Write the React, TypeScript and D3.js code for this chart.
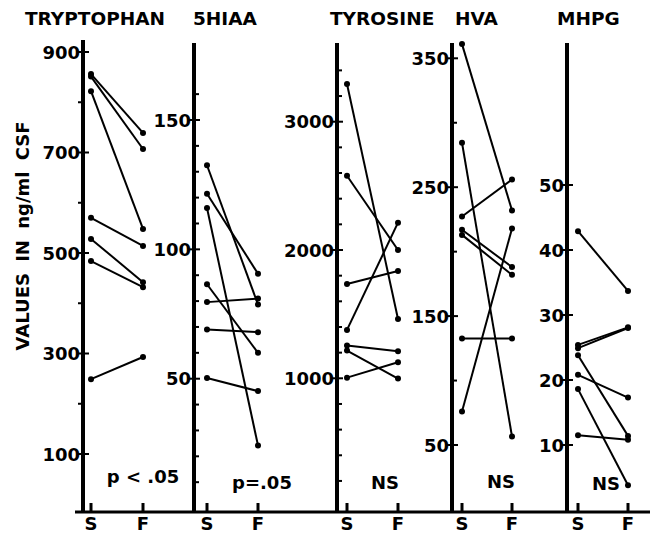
import React from "react"
import { scaleLinear, scalePoint } from "d3"

// paired CSF values, S = first sample, F = follow-up
const titles = ["TRYPTOPHAN", "5HIAA", "TYROSINE", "HVA", "MHPG"]
const phases = ["S", "F"]
const notes = ["p < .05", "p=.05", "NS", "NS", "NS"]

const tryptophanS = [856, 851, 822, 570, 528, 484, 249]
const tryptophanF = [739, 707, 548, 514, 442, 432, 293]
const hiaaS = [132.5, 121.5, 116, 86.5, 79.6, 69, 50.3]
const hiaaF = [78.7, 90.6, 24.2, 60, 81, 68, 45.2]
const tyrosineS = [3294, 2579, 1735, 1377, 1255, 1216, 1005]
const tyrosineF = [1462, 2000, 1836, 2213, 1210, 998, 1125]
const hvaS = [361, 284.5, 227.3, 217, 213, 132.6, 76]
const hvaF = [232, 56.6, 256, 188, 182, 132.6, 218]
const mhpgS = [42.9, 25.4, 24.9, 23.8, 20.8, 18.6, 11.5]
const mhpgF = [33.7, 28.1, 28.0, 11.4, 17.3, 3.8, 10.8]

const seriesS = [tryptophanS, hiaaS, tyrosineS, hvaS, mhpgS]
const seriesF = [tryptophanF, hiaaF, tyrosineF, hvaF, mhpgF]

const tickLabels = [
  [100, 300, 500, 700, 900],
  [50, 100, 150],
  [1000, 2000, 3000],
  [50, 150, 250, 350],
  [10, 20, 30, 40, 50],
]
const minorTicks = [
  [200, 400, 600, 800],
  [10, 20, 30, 40, 60, 70, 80, 90, 110, 120, 130, 140, 160],
  [200, 400, 600, 800, 1200, 1400, 1600, 1800, 2200, 2400, 2600, 2800, 3200, 3400],
  [100, 200, 300],
  [],
]

// layout: axis position, value->pixel calibration, title/note placement
const layout = [
  { axisX: 83, sX: 91, fX: 143, dom: [100, 900], rng: [454, 52], top: 40, titleX: 25, noteX: 143, noteY: 483, minorLeft: true },
  { axisX: 194, sX: 207, fX: 258, dom: [50, 150], rng: [378.7, 120], top: 43, titleX: 193, noteX: 262, noteY: 489, minorLeft: false },
  { axisX: 337, sX: 347, fX: 398, dom: [1000, 3000], rng: [378.3, 121.7], top: 43, titleX: 330, noteX: 385, noteY: 489, minorLeft: false },
  { axisX: 452, sX: 462, fX: 512, dom: [50, 350], rng: [445, 58.3], top: 43, titleX: 455, noteX: 501, noteY: 488, minorLeft: false },
  { axisX: 567, sX: 578, fX: 628, dom: [10, 50], rng: [445, 185], top: 43, titleX: 557, noteX: 606, noteY: 490, minorLeft: false },
]

const baseY = 512
const font = "'DejaVu Sans', sans-serif"

function Panel({ i }: { i: number }) {
  const l = layout[i]
  const y = scaleLinear().domain(l.dom).range(l.rng)
  const x = scalePoint<string>().domain(phases).range([l.sX, l.fX])
  const s = seriesS[i]
  const f = seriesF[i]

  return (
    <g>
      <text x={l.titleX} y={25} fontSize={18.5} fontWeight="bold" fontFamily={font}>
        {titles[i]}
      </text>
      <line x1={l.axisX} x2={l.axisX} y1={l.top} y2={baseY} stroke="#000" strokeWidth={4} />
      {tickLabels[i].map((t) => (
        <g key={"t" + t}>
          <line x1={l.axisX - 5} x2={l.axisX + 6} y1={y(t)} y2={y(t)} stroke="#000" strokeWidth={2} />
          <text
            x={l.axisX - 3}
            y={y(t)}
            textAnchor="end"
            dominantBaseline="central"
            fontSize={18}
            fontWeight="bold"
            fontFamily={font}
          >
            {t}
          </text>
        </g>
      ))}
      {minorTicks[i].map((t) => (
        <line
          key={"m" + t}
          x1={l.minorLeft ? l.axisX - 5 : l.axisX}
          x2={l.minorLeft ? l.axisX : l.axisX + 5}
          y1={y(t)}
          y2={y(t)}
          stroke="#000"
          strokeWidth={2}
        />
      ))}
      {phases.map((p) => (
        <g key={p}>
          <line x1={x(p)} x2={x(p)} y1={baseY - 9} y2={baseY} stroke="#000" strokeWidth={3} />
          <text x={x(p)} y={530} textAnchor="middle" fontSize={18} fontWeight="bold" fontFamily={font}>
            {p}
          </text>
        </g>
      ))}
      {s.map((v, k) => (
        <g key={k}>
          <line x1={x("S")} y1={y(v)} x2={x("F")} y2={y(f[k])} stroke="#000" strokeWidth={2} />
          <circle cx={x("S")} cy={y(v)} r={3} fill="#000" />
          <circle cx={x("F")} cy={y(f[k])} r={3} fill="#000" />
        </g>
      ))}
      <text x={l.noteX} y={l.noteY} textAnchor="middle" fontSize={18} fontWeight="bold" fontFamily={font}>
        {notes[i]}
      </text>
    </g>
  )
}

export default function App() {
  return (
    <svg
      width={650}
      height={536}
      style={{ position: "absolute", left: 0, top: 0, background: "#fff" }}
    >
      <rect width={650} height={536} fill="#fff" />
      <text
        transform="translate(22,236) rotate(-90)"
        textAnchor="middle"
        dominantBaseline="central"
        fontSize={18}
        fontWeight="bold"
        fontFamily={font}
        wordSpacing={5}
      >
        VALUES IN ng/ml CSF
      </text>
      <line x1={75} x2={650} y1={baseY} y2={baseY} stroke="#000" strokeWidth={3} />
      {titles.map((t, i) => (
        <Panel key={t} i={i} />
      ))}
    </svg>
  )
}
